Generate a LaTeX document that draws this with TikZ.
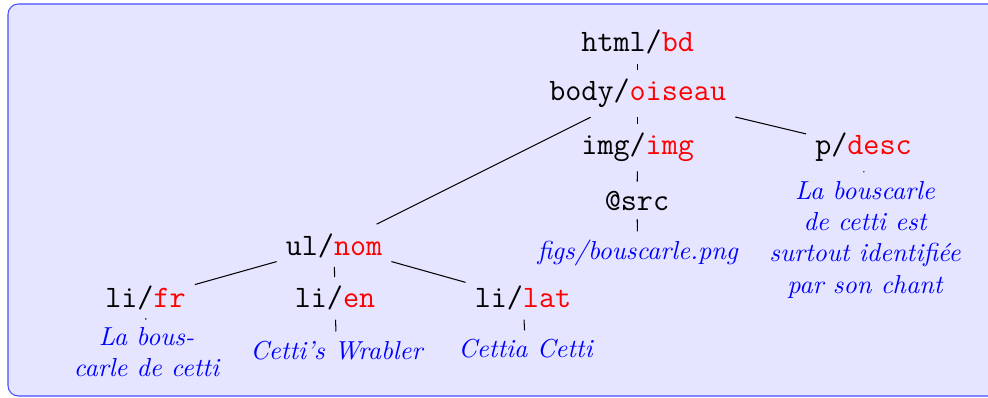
\documentclass[tikz,border=0pt]{standalone}
\usepackage{xcolor}
\usepackage{tikz}
\usetikzlibrary{positioning,calc}

\newcommand{\cls}[1]{\textcolor{red}{#1}}

\begin{document}
\begin{tikzpicture}[
    elem/.style={anchor=base, font=\large\ttfamily},
    content/.style={anchor=base, text=blue, font=\itshape, align=center}
]
    \useasboundingbox (0, 0) rectangle (13.355, -5.38);
    % Frame
    \draw [blue!70, fill=blue!10, rounded corners=4pt] (0.108, -0.054) rectangle (13.8, -5.353);

    % Root and body
    \node (html) [elem] at (8.62, -0.703) {html/\cls{bd}};
    \node (body) [elem] at (8.62, -1.365) {body/\cls{oiseau}};

    % Image branch
    \node (img) [elem] at (8.62, -2.095) {img/\cls{img}};
    \node (src) [elem] at (8.61, -2.839) {@src};
    \node (srctxt) [content] at (8.62, -3.514) {figs/bouscarle.png};

    % Description branch
    \node (desc) [elem] at (11.672, -2.095) {p/\cls{desc}};
    \node (desctxt) [content, anchor=north] at (11.692, -2.33) {La bouscarle\\de cetti est\\surtout identifiée\\par son chant};

    % Name list
    \node (nom) [elem] at (4.515, -3.447) {ul/\cls{nom}};
    \node (fr) [elem] at (1.967, -4.163) {li/\cls{fr}};
    \node (en) [elem] at (4.528, -4.163) {li/\cls{en}};
    \node (lat) [elem] at (7.069, -4.163) {li/\cls{lat}};
    \node (frtxt) [content, anchor=north] at (1.98, -4.30) {La bous-\\carle de cetti};
    \node (entxt) [content] at (4.548, -4.853) {Cetti's Wrabler};
    \node (lattxt) [content] at (7.103, -4.839) {Cettia Cetti};

    % Edges
    \foreach \a/\b in {html/body, body/img, body/desc, body/nom, img/src, src/srctxt,
                       desc/desctxt, nom/fr, nom/en, nom/lat, fr/frtxt, en/entxt, lat/lattxt}
        \draw (\a) -- (\b);
\end{tikzpicture}
\end{document}
